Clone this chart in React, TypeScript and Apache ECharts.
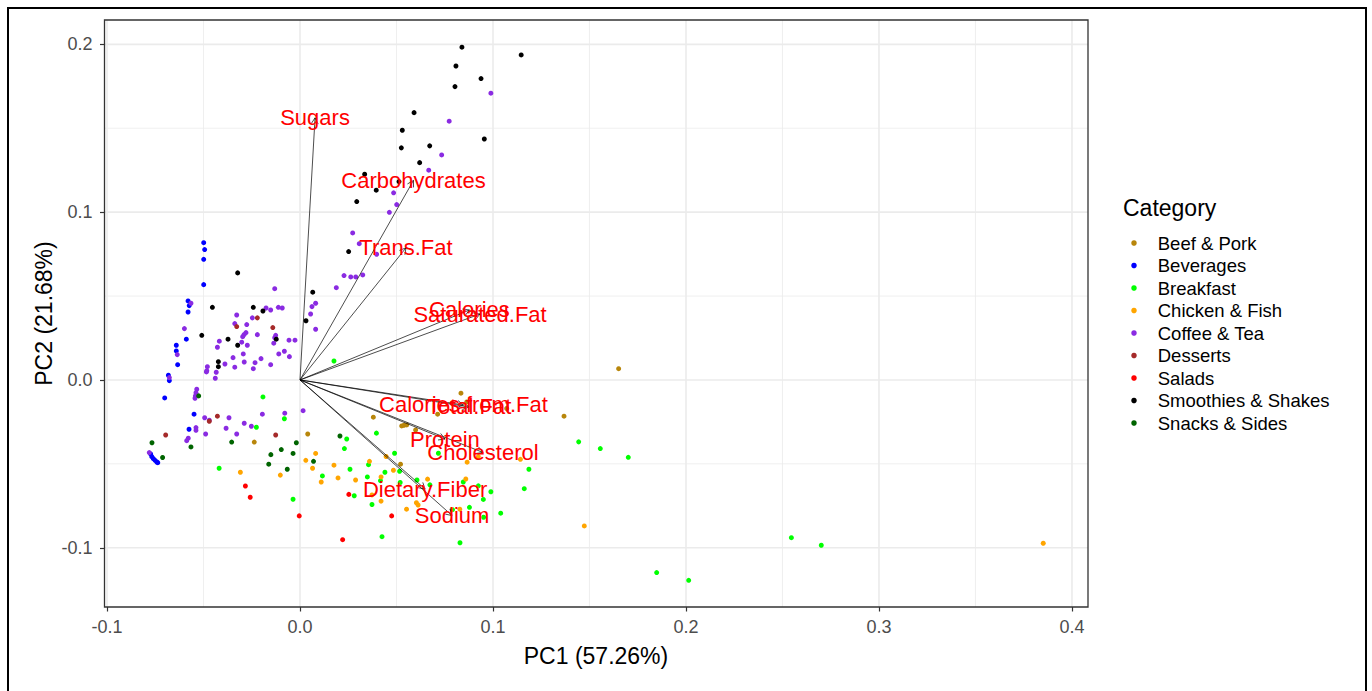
import React, { useEffect, useRef } from "react";
import * as echarts from "echarts";

const categories = [
  "Beef & Pork",
  "Beverages",
  "Breakfast",
  "Chicken & Fish",
  "Coffee & Tea",
  "Desserts",
  "Salads",
  "Smoothies & Shakes",
  "Snacks & Sides",
];
const categoryColors = ["#B8860B", "#0000FF", "#00FF00", "#FFA500", "#8A2BE2", "#A52A2A", "#FF0000", "#000000", "#006400"];

const beefPork = [
  [0.1651, 0.0067], [0.0834, -0.0079], [0.0864, -0.0131], [0.1071, -0.017], [0.1368, -0.0216],
  [0.038, -0.0222], [0.0713, -0.0204], [0.0527, -0.0274], [0.0539, -0.027], [0.0553, -0.0268],
  [0.0599, -0.0298], [0.004, -0.0322], [-0.0237, -0.037], [0.0521, -0.0502],
];
const beverages = [
  [-0.0499, 0.0818], [-0.0494, 0.0777], [-0.0499, 0.0719], [-0.0499, 0.0568], [-0.058, 0.0471],
  [-0.0574, 0.0443], [-0.058, 0.0405], [-0.0589, 0.0243], [-0.0641, 0.0207], [-0.0641, 0.0173],
  [-0.0634, 0.0091], [-0.0682, 0.0028], [-0.0677, -0.0004], [-0.0701, -0.0107], [-0.0549, -0.0204],
  [-0.0575, -0.0294], [-0.0774, -0.0441], [-0.0768, -0.0457], [-0.076, -0.0469], [-0.0751, -0.0479],
  [-0.0742, -0.0489], [-0.0737, -0.0493],
];
const breakfast = [
  [-0.0192, -0.0101], [-0.0081, -0.0231], [-0.0226, -0.0282], [-0.0419, -0.0526], [-0.0036, -0.0711],
  [0.0176, 0.0113], [0.0242, -0.0352], [0.0396, -0.0317], [0.023, -0.0409], [0.0259, -0.0532],
  [0.0355, -0.0505], [0.049, -0.0437], [0.044, -0.055], [0.0516, -0.0544], [0.0717, -0.0437],
  [0.1186, -0.0532], [0.0116, -0.0572], [0.0349, -0.0578], [0.0417, -0.06], [0.0606, -0.0596],
  [0.0673, -0.0625], [0.0519, -0.0611], [0.0846, -0.0608], [0.0924, -0.0631], [0.0989, -0.0666],
  [0.1162, -0.0648], [0.0281, -0.069], [0.0373, -0.0742], [0.079, -0.0773], [0.0878, -0.0759],
  [0.095, -0.0712], [0.104, -0.0794], [0.0951, -0.0818], [0.0425, -0.0934], [0.0829, -0.097],
  [0.1444, -0.0369], [0.1556, -0.0409], [0.1701, -0.0461], [0.1848, -0.1148], [0.2014, -0.1194],
  [0.2546, -0.094], [0.2701, -0.0985],
];
const chickenFish = [
  [0.0081, -0.0438], [0.003, -0.0479], [0.0065, -0.0526], [-0.0309, -0.055], [-0.0102, -0.0567],
  [0.0176, -0.0508], [0.036, -0.0485], [0.0446, -0.0456], [0.0484, -0.0538], [0.0866, -0.049],
  [0.1142, -0.0473], [0.011, -0.0608], [0.0197, -0.0584], [0.0288, -0.0596], [0.042, -0.0578],
  [0.0661, -0.0591], [0.0859, -0.059], [0.0373, -0.0685], [0.042, -0.0722], [0.0552, -0.077],
  [0.0603, -0.0732], [0.0612, -0.0745], [0.0828, -0.077], [0.1473, -0.087], [0.3851, -0.0973],
  [0.0924, -0.0457],
];
const coffeeTea = [
  [0.0989, 0.1709], [0.0773, 0.1542], [0.0734, 0.1341], [0.0667, 0.125], [0.0485, 0.1115],
  [0.0501, 0.1045], [0.0463, 0.0999], [0.0273, 0.0876], [0.0307, 0.0812], [0.0397, 0.0749],
  [0.0228, 0.0622], [0.0263, 0.0614], [0.0289, 0.0614], [0.0325, 0.0626], [0.0188, 0.055],
  [0.0081, 0.0457], [0.0062, 0.0437], [0.0055, 0.0393], [0.0081, 0.0302], [-0.0131, 0.0544],
  [-0.0565, 0.0457], [-0.0176, 0.0429], [-0.0152, 0.0417], [-0.0112, 0.0433], [-0.0092, 0.0429],
  [-0.0328, 0.0387], [-0.0247, 0.037], [-0.0599, 0.0306], [-0.0338, 0.0336], [-0.0276, 0.033],
  [-0.028, 0.0282], [-0.029, 0.027], [-0.0297, 0.0258], [-0.0221, 0.027], [-0.0126, 0.0266],
  [-0.0131, 0.0252], [-0.0057, 0.0237], [-0.0026, 0.0237], [-0.0418, 0.0231], [-0.0428, 0.0195],
  [-0.0302, 0.0225], [-0.0273, 0.0207], [-0.0136, 0.0219], [-0.0636, 0.0151], [-0.0294, 0.0155],
  [-0.0081, 0.0171], [-0.011, 0.0155], [-0.0055, 0.0139], [-0.0347, 0.0133], [-0.0289, 0.0107],
  [-0.0389, 0.0095], [-0.0202, 0.0127], [-0.0233, 0.0103], [-0.0152, 0.0091], [-0.048, 0.0079],
  [-0.0483, 0.0055], [-0.0485, 0.0048], [-0.0338, 0.0076], [-0.0242, 0.0067], [-0.0434, 0.0046],
  [-0.0439, 0.001], [-0.0677, 0.0014], [-0.0535, -0.0055], [-0.0539, -0.0076], [-0.0542, -0.0095],
  [-0.0544, -0.0109], [0.0016, -0.0183], [-0.0195, -0.0204], [-0.0079, -0.0198], [-0.0494, -0.0225],
  [-0.047, -0.024], [-0.0368, -0.0225], [-0.0289, -0.0258], [-0.0252, -0.0276], [-0.0383, -0.0288],
  [-0.0539, -0.0284], [-0.0539, -0.03], [-0.0328, -0.0322], [-0.0489, -0.0322], [-0.0579, -0.0347],
  [-0.0587, -0.0362], [-0.0781, -0.0433],
];
const desserts = [
  [-0.0221, 0.037], [-0.0328, 0.0318], [-0.0141, 0.0312], [-0.0428, -0.0216], [-0.047, -0.0246],
  [-0.0696, -0.0328], [-0.0126, -0.0328],
];
const salads = [
  [-0.0283, -0.0632], [-0.0258, -0.0699], [-0.0004, -0.081], [0.0253, -0.0682], [0.0221, -0.0952],
  [0.0475, -0.081],
];
const smoothiesShakes = [
  [0.0839, 0.1983], [0.1146, 0.1937], [0.0808, 0.1871], [0.0938, 0.1796], [0.0803, 0.1748],
  [0.0591, 0.1593], [0.053, 0.1488], [0.0955, 0.1436], [0.0525, 0.1383], [0.0672, 0.1395],
  [0.062, 0.1295], [0.0335, 0.1226], [0.0513, 0.1182], [0.0395, 0.1131], [0.0294, 0.1063],
  [0.0252, 0.0765], [0.0066, 0.0523], [0.0031, 0.0353], [-0.0323, 0.0638], [-0.0454, 0.0433],
  [-0.0242, 0.0433], [-0.0192, 0.0411], [-0.0509, 0.0266], [-0.0373, 0.0243], [-0.0323, 0.0207],
  [-0.0123, 0.0243], [-0.0423, 0.0109], [-0.0423, 0.0079],
];
const snacksSides = [
  [-0.0525, -0.0095], [-0.0767, -0.0374], [-0.0565, -0.0399], [-0.0712, -0.0462], [-0.0354, -0.037],
  [-0.0019, -0.0374], [-0.0097, -0.0415], [-0.0036, -0.0438], [-0.0151, -0.0445], [-0.0162, -0.0502],
  [-0.0066, -0.0532], [0.007, -0.0485], [0.0207, -0.0334],
];
const categoryPoints = [beefPork, beverages, breakfast, chickenFish, coffeeTea, desserts, salads, smoothiesShakes, snacksSides];

const variableNames = [
  "Sugars", "Carbohydrates", "Trans.Fat", "Calories", "Saturated.Fat",
  "Calories.from.Fat", "Total.Fat", "Protein", "Cholesterol", "Dietary.Fiber", "Sodium",
];
const loadingPC1 = [0.0078, 0.0588, 0.0549, 0.0878, 0.0933, 0.0847, 0.0876, 0.0751, 0.0948, 0.0648, 0.0788];
const loadingPC2 = [0.1562, 0.1189, 0.0787, 0.0417, 0.0393, -0.0149, -0.0161, -0.0352, -0.0432, -0.065, -0.0808];

const xTicks = [-0.1, 0, 0.1, 0.2, 0.3, 0.4];
const yTicks = [-0.1, 0, 0.1, 0.2];
const xMinorTicks = [-0.05, 0.05, 0.15, 0.25, 0.35];
const yMinorTicks = [-0.05, 0.05, 0.15];
const xRange = [-0.1013, 0.4083];
const yRange = [-0.1353, 0.2145];

const FONT = "'Liberation Sans', Arial, Helvetica, sans-serif";

export default function App() {
  const ref = useRef<HTMLDivElement>(null);

  useEffect(() => {
    if (!ref.current) return;
    const chart = echarts.init(ref.current, undefined, { renderer: "svg" });

    // grid line specs: [value, orientation (0 vertical / 1 horizontal), major flag]
    const gridLines: number[][] = [];
    xMinorTicks.forEach((v) => gridLines.push([v, 0, 0]));
    yMinorTicks.forEach((v) => gridLines.push([v, 1, 0]));
    xTicks.forEach((v) => gridLines.push([v, 0, 1]));
    yTicks.forEach((v) => gridLines.push([v, 1, 1]));

    const loadings = variableNames.map((n, i) => ({ name: n, value: [loadingPC1[i], loadingPC2[i]] }));

    const pointSeries = categories.map((c, i) => ({
      name: c,
      type: "scatter",
      data: categoryPoints[i],
      symbol: "circle",
      symbolSize: 5,
      itemStyle: { color: categoryColors[i], opacity: 1 },
      silent: true,
      z: 3,
    }));

    const option: any = {
      animation: false,
      backgroundColor: "#ffffff",
      textStyle: { fontFamily: FONT },
      grid: { left: 104.5, right: 284, top: 20, bottom: 84, show: false },
      xAxis: {
        type: "value",
        min: xRange[0],
        max: xRange[1],
        axisLine: { show: false, onZero: false },
        axisTick: { show: true, customValues: xTicks, length: 4.5, lineStyle: { color: "#333333", width: 1.2 } },
        axisLabel: {
          customValues: xTicks,
          formatter: (v: number) => v.toFixed(1),
          color: "#4D4D4D",
          fontSize: 18,
          fontFamily: FONT,
          margin: 11,
        },
        splitLine: { show: false },
      },
      yAxis: {
        type: "value",
        min: yRange[0],
        max: yRange[1],
        axisLine: { show: false, onZero: false },
        axisTick: { show: true, customValues: yTicks, length: 4.5, lineStyle: { color: "#333333", width: 1.2 } },
        axisLabel: {
          customValues: yTicks,
          formatter: (v: number) => v.toFixed(1),
          color: "#4D4D4D",
          fontSize: 18,
          fontFamily: FONT,
          margin: 12,
        },
        splitLine: { show: false },
      },
      legend: {
        show: true,
        orient: "vertical",
        left: 1131.25,
        top: 231.75,
        padding: 0,
        itemWidth: 5.5,
        itemHeight: 5.5,
        itemGap: 0,
        icon: "circle",
        selectedMode: false,
        data: categories,
        textStyle: { fontSize: 18.5, fontFamily: FONT, color: "#000000", lineHeight: 22.5, padding: [0, 0, 0, 16] },
      },
      graphic: [
        {
          type: "rect",
          silent: true,
          z: 100,
          shape: { x: 8, y: 8, width: 1358, height: 700 },
          style: { fill: "none", stroke: "#000000", lineWidth: 2 },
        },
        {
          type: "rect",
          silent: true,
          z: 99,
          shape: { x: 104.5, y: 20, width: 983.5, height: 587 },
          style: { fill: "none", stroke: "#333333", lineWidth: 1.3 },
        },
        {
          type: "text",
          silent: true,
          x: 596,
          y: 656,
          style: { text: "PC1 (57.26%)", fill: "#000000", fontSize: 23, fontFamily: FONT, align: "center", verticalAlign: "middle" },
        },
        {
          type: "text",
          silent: true,
          x: 44,
          y: 313.5,
          rotation: Math.PI / 2,
          style: { text: "PC2 (21.68%)", fill: "#000000", fontSize: 23, fontFamily: FONT, align: "center", verticalAlign: "middle" },
        },
        {
          type: "text",
          silent: true,
          x: 1123,
          y: 208,
          style: { text: "Category", fill: "#000000", fontSize: 23, fontFamily: FONT, align: "left", verticalAlign: "middle" },
        },
      ],
      series: [
        {
          type: "custom",
          name: "grid",
          silent: true,
          z: 1,
          data: gridLines,
          renderItem: (params: any, api: any) => {
            const cs = params.coordSys;
            const v = api.value(0);
            const orient = api.value(1);
            const major = api.value(2);
            const style = { stroke: "#EBEBEB", lineWidth: major ? 1.6 : 0.8 };
            if (orient === 0) {
              const p = api.coord([v, yRange[0]]);
              return { type: "line", shape: { x1: p[0], y1: cs.y, x2: p[0], y2: cs.y + cs.height }, style };
            }
            const p = api.coord([xRange[0], v]);
            return { type: "line", shape: { x1: cs.x, y1: p[1], x2: cs.x + cs.width, y2: p[1] }, style };
          },
        },
        ...pointSeries,
        {
          type: "custom",
          name: "arrows",
          silent: true,
          z: 4,
          data: loadings,
          renderItem: (params: any, api: any) => {
            const o = api.coord([0, 0]);
            const e = api.coord([api.value(0), api.value(1)]);
            const ang = Math.atan2(e[1] - o[1], e[0] - o[0]);
            const L = 7;
            const a = Math.PI / 6;
            const p1 = [e[0] - L * Math.cos(ang - a), e[1] - L * Math.sin(ang - a)];
            const p2 = [e[0] - L * Math.cos(ang + a), e[1] - L * Math.sin(ang + a)];
            return {
              type: "group",
              children: [
                { type: "line", shape: { x1: o[0], y1: o[1], x2: e[0], y2: e[1] }, style: { stroke: "#000000", lineWidth: 0.7 } },
                { type: "polyline", shape: { points: [p1, e, p2] }, style: { stroke: "#000000", lineWidth: 0.7, fill: "none" } },
              ],
            };
          },
        },
        {
          type: "custom",
          name: "labels",
          silent: true,
          z: 5,
          data: loadings,
          renderItem: (params: any, api: any) => {
            const e = api.coord([api.value(0), api.value(1)]);
            return {
              type: "text",
              x: e[0],
              y: e[1],
              style: {
                text: variableNames[params.dataIndex],
                fill: "#FF0000",
                fontSize: 22,
                fontFamily: FONT,
                align: "center",
                verticalAlign: "middle",
              },
            };
          },
        },
      ],
    };

    chart.setOption(option);
    return () => chart.dispose();
  }, []);

  return <div ref={ref} style={{ position: "absolute", left: 0, top: 0, width: 1372, height: 691 }} />;
}
